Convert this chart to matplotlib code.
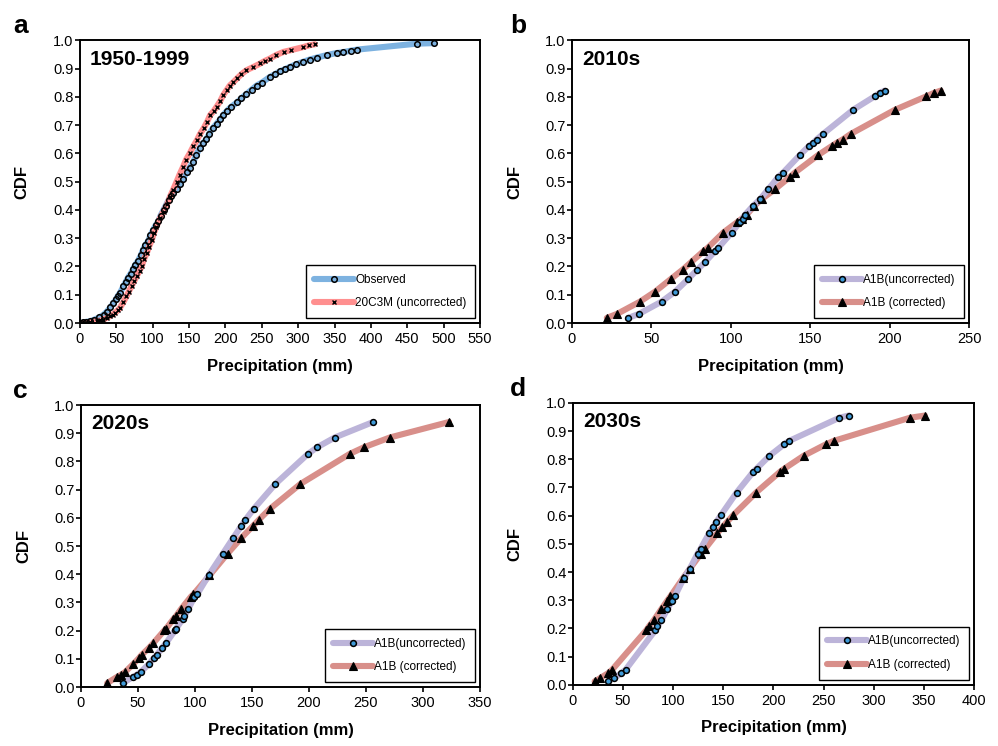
import numpy as np
import matplotlib
matplotlib.use('Agg')
import matplotlib.pyplot as plt

plt.rcParams['font.family'] = ['Liberation Sans', 'DejaVu Sans']

# panel a: 1950-1999
obsPrecip = [2, 5, 8, 14, 20, 27, 33, 37, 42, 46, 50, 52, 55, 60, 63, 66, 70, 73, 76, 80, 84, 87, 90,
             94, 97, 101, 104, 108, 111, 115, 118, 122, 125, 128, 133, 138, 142, 147, 151, 156, 160,
             165, 169, 174, 178, 183, 188, 193, 197, 202, 208, 216, 222, 229, 236, 243, 250, 261, 268,
             275, 282, 289, 297, 307, 316, 326, 340, 353, 362, 372, 381, 463, 487]
obsCdf = [0.0, 0.002, 0.004, 0.006, 0.012, 0.02, 0.03, 0.04, 0.055, 0.07, 0.085, 0.095, 0.106, 0.13,
          0.145, 0.16, 0.175, 0.19, 0.205, 0.22, 0.24, 0.26, 0.275, 0.29, 0.31, 0.33, 0.345, 0.36, 0.38,
          0.40, 0.415, 0.435, 0.45, 0.46, 0.475, 0.49, 0.51, 0.535, 0.55, 0.57, 0.595, 0.62, 0.635,
          0.65, 0.67, 0.69, 0.705, 0.72, 0.735, 0.75, 0.765, 0.78, 0.795, 0.81, 0.825, 0.84, 0.85,
          0.87, 0.88, 0.89, 0.898, 0.906, 0.915, 0.924, 0.932, 0.939, 0.948, 0.955, 0.958, 0.963,
          0.967, 0.988, 0.99]
gcmPrecip = [5, 14, 23, 28, 32, 37, 41, 45, 48, 52, 55, 60, 64, 67, 71, 75, 78, 82, 85, 88, 92, 95,
             99, 102, 105, 110, 115, 120, 124, 128, 133, 137, 142, 146, 151, 156, 161, 165, 170, 175,
             179, 184, 188, 193, 197, 202, 206, 211, 216, 222, 229, 238, 248, 255, 261, 270, 280, 290,
             307, 315, 323]
gcmCdf = [0.0, 0.003, 0.006, 0.009, 0.012, 0.018, 0.024, 0.03, 0.035, 0.045, 0.053, 0.075, 0.094,
          0.11, 0.13, 0.15, 0.165, 0.185, 0.2, 0.225, 0.247, 0.27, 0.294, 0.32, 0.34, 0.37, 0.394,
          0.42, 0.447, 0.47, 0.5, 0.525, 0.553, 0.578, 0.6, 0.625, 0.647, 0.668, 0.688, 0.712, 0.735,
          0.75, 0.765, 0.785, 0.806, 0.825, 0.84, 0.852, 0.865, 0.88, 0.894, 0.905, 0.918, 0.928,
          0.935, 0.948, 0.959, 0.965, 0.976, 0.982, 0.986]

# panel b: 2010s
cdf2010 = [0.018, 0.033, 0.076, 0.111, 0.156, 0.189, 0.215, 0.254, 0.266, 0.32, 0.357, 0.369, 0.383,
           0.414, 0.438, 0.473, 0.517, 0.532, 0.594, 0.627, 0.637, 0.649, 0.669, 0.754, 0.802, 0.814, 0.822]
unc2010 = [35.6, 42.5, 56.6, 65, 73.3, 79, 83.8, 90.1, 92.2, 100.6, 105.8, 107.5, 109, 114, 118.5,
           123.6, 130, 133, 143.5, 149.4, 152, 154, 158.2, 177, 190.7, 193.8, 197]
cor2010 = [22, 28.7, 43, 52.4, 62.4, 69.8, 75, 82.8, 85.5, 95.3, 104.1, 106.9, 110, 114.8, 119.4,
           127.8, 137.3, 140.4, 155, 163.9, 166.6, 170.4, 175.6, 203.3, 223.2, 228, 232.2]

# panel c: 2020s
cdf2020 = [0.014, 0.035, 0.043, 0.053, 0.082, 0.103, 0.114, 0.14, 0.156, 0.201, 0.207, 0.241, 0.252,
           0.277, 0.32, 0.329, 0.396, 0.473, 0.527, 0.571, 0.592, 0.631, 0.72, 0.827, 0.85, 0.885, 0.94]
unc2020 = [36.6, 45.4, 48.9, 52.4, 59.8, 64.1, 66.5, 71.5, 74.7, 82.6, 83.5, 89.3, 90.8, 94.3, 99.6,
           102, 112, 124.5, 133.3, 140.6, 144.1, 151.4, 170.5, 199.2, 207.1, 222.6, 256.3]
cor2020 = [23.1, 31.3, 34.9, 38.7, 46, 51, 53.3, 60, 63.6, 73.2, 74.7, 81.1, 83.5, 87.9, 96.4, 98.7,
           112.8, 128.6, 140.3, 150.8, 155.8, 165.5, 192.4, 235.8, 248, 270.9, 322.8]

# panel d: 2030s
cdf2030 = [0.012, 0.024, 0.041, 0.054, 0.194, 0.208, 0.229, 0.269, 0.298, 0.314, 0.379, 0.412, 0.465,
           0.482, 0.538, 0.559, 0.576, 0.602, 0.682, 0.756, 0.767, 0.812, 0.853, 0.865, 0.947, 0.955]
unc2030 = [35, 41, 48.3, 52.7, 82.3, 84.3, 88.3, 94.3, 99, 101.7, 110.7, 116.7, 124.3, 127.3, 136, 140,
           142.7, 147.7, 163.3, 180, 183.3, 196, 210.7, 215.7, 265.7, 275]
cor2030 = [21.7, 27.3, 35, 39.3, 73.3, 76, 80.7, 88.3, 94, 97.3, 110, 116.7, 127.7, 131.7, 144, 149,
           153.3, 160, 182.7, 206.7, 211, 230, 252.3, 260, 336, 351]

blueLine = '#7db2e0'
pinkLine = '#ff8f8f'
lavLine = '#bcb4d9'
redLine = '#d88f8a'
dotFill = '#3f9ad8'


def drawSeries(ax, x, y, lineColor, marker, mfc, ms, mew):
    line, = ax.plot(x, y, color=lineColor, lw=4.4, solid_capstyle='round', zorder=2)
    pts, = ax.plot(x, y, ls='none', marker=marker, ms=ms, mfc=mfc, mec='black', mew=mew, zorder=3)
    return (line, pts)


def styleAxes(ax, xmax, xstep, title, letter, letterPos):
    ax.set_xlim(0, xmax)
    ax.set_ylim(0, 1.0)
    ax.set_xticks(np.arange(0, xmax + 1, xstep))
    ax.set_yticks(np.arange(0, 1.01, 0.1))
    ax.set_yticklabels(['%.1f' % v for v in np.arange(0, 1.01, 0.1)])
    for s in ax.spines.values():
        s.set_linewidth(1.4)
    ax.tick_params(direction='out', length=3.5, width=1.2, labelsize=10.5)
    ax.tick_params(axis='y', pad=1)
    ax.tick_params(axis='x', pad=3)
    ax.set_xlabel('Precipitation (mm)', fontsize=12, fontweight='bold', labelpad=9)
    ax.set_ylabel('CDF', fontsize=12, fontweight='bold')
    ax.yaxis.set_label_coords(-0.125, 0.5)
    ax.text(0.025, 0.933, title, transform=ax.transAxes, fontsize=15, fontweight='bold', va='center')
    ax.figure.text(letterPos[0] / 998, 1 - letterPos[1] / 746, letter, fontsize=19, fontweight='bold')


def addLegend(ax, handles, labels):
    leg = ax.legend(handles, labels, loc='lower right', fontsize=8.5, handlelength=3.4,
                    handletextpad=0.05, labelspacing=1.0, borderpad=0.7, borderaxespad=0.45,
                    fancybox=False, framealpha=1, edgecolor='black')
    leg.get_frame().set_linewidth(1.0)


def main():
    fig = plt.figure(figsize=(9.98, 7.46), dpi=100)
    axA = fig.add_axes([0.080, 0.567, 0.401, 0.379])
    axB = fig.add_axes([0.573, 0.567, 0.398, 0.379])
    axC = fig.add_axes([0.081, 0.079, 0.400, 0.378])
    axD = fig.add_axes([0.574, 0.082, 0.402, 0.378])

    hObs = drawSeries(axA, obsPrecip, obsCdf, blueLine, 'o', 'none', 4, 1.1)
    hGcm = drawSeries(axA, gcmPrecip, gcmCdf, pinkLine, 'x', 'black', 2.3, 1.0)
    styleAxes(axA, 550, 50, '1950-1999', 'a', (13, 33))
    addLegend(axA, [hObs, hGcm], ['Observed', '20C3M (uncorrected)'])

    panels = [(axB, cdf2010, unc2010, cor2010, 250, '2010s', 'b', (510, 33)),
              (axC, cdf2020, unc2020, cor2020, 350, '2020s', 'c', (13, 398)),
              (axD, cdf2030, unc2030, cor2030, 400, '2030s', 'd', (510, 396))]
    for ax, cdf, unc, cor, xmax, title, letter, pos in panels:
        hCor = drawSeries(ax, cor, cdf, redLine, '^', 'black', 6, 0.8)
        hUnc = drawSeries(ax, unc, cdf, lavLine, 'o', dotFill, 4.2, 1.1)
        styleAxes(ax, xmax, 50, title, letter, pos)
        addLegend(ax, [hUnc, hCor], ['A1B(uncorrected)', 'A1B (corrected)'])

    fig.savefig('out.png', dpi=100)


if __name__ == "__main__":
    main()
